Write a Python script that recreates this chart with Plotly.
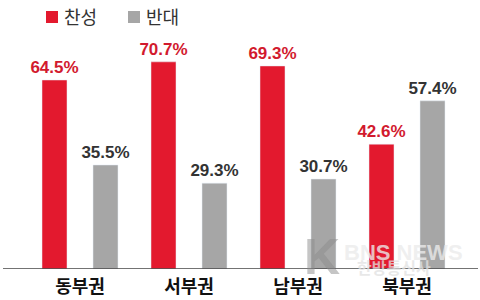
import plotly.graph_objects as go

categories = ["동부권", "서부권", "남부권", "북부권"]
favor = [64.5, 70.7, 69.3, 42.6]
oppose = [35.5, 29.3, 30.7, 57.4]
series_names = ["찬성", "반대"]

RED = "#E3192E"
RED_TXT = "#D21A2E"
GRAY = "#A6A6A6"
GRAY_TXT = "#333333"

W, H = 480, 300
L, R, T, B = 3, 2, 30, 31
pw = W - L - R
ph = H - T - B
px_per_cat = 109.0
span = pw / px_per_cat
r0 = -(80 - L) / px_per_cat
r1 = r0 + span
px_per_unit = 2.93
ymax = ph / px_per_unit

bw = 25 / px_per_cat
off = 25.5 / px_per_cat

fig = go.Figure()
fig.add_trace(go.Bar(
    x=categories, y=favor, name=series_names[0],
    marker_color=RED, width=bw, offset=-off - bw / 2,
    text=[f"{v:.1f}%" for v in favor], textposition="outside", constraintext="none",
    textfont=dict(family="Liberation Sans", size=17, color=RED_TXT, weight="bold"),
    cliponaxis=False, showlegend=False,
))
fig.add_trace(go.Bar(
    x=categories, y=oppose, name=series_names[1],
    marker_color=GRAY, width=bw, offset=off - bw / 2,
    text=[f"{v:.1f}%" for v in oppose], textposition="outside", constraintext="none",
    textfont=dict(family="Liberation Sans", size=17, color=GRAY_TXT, weight="bold"),
    cliponaxis=False, showlegend=False,
))

def px2x(p):
    return (p - L) / pw

def py2y(p):
    return (H - B - p) / ph

shapes = [
    dict(type="line", xref="paper", yref="y", x0=0, x1=1, y0=0, y1=0,
         line=dict(color="#444444", width=1.5)),
]
annotations = []
# custom legend
for sx, color, label in [(46, RED, series_names[0]), (128, GRAY, series_names[1])]:
    shapes.append(dict(type="rect", xref="paper", yref="paper",
                       x0=px2x(sx), x1=px2x(sx + 12), y0=py2y(23), y1=py2y(11),
                       fillcolor=color, line=dict(width=0)))
    annotations.append(dict(xref="paper", yref="paper", x=px2x(sx + 16), y=py2y(16),
                            xanchor="left", yanchor="middle", text=label, showarrow=False,
                            font=dict(family="Noto Sans CJK KR", size=18, color="#333333")))

# watermark
annotations.append(dict(xref="paper", yref="paper", x=px2x(322), y=py2y(257),
                        xanchor="center", yanchor="middle", text="K", showarrow=False,
                        font=dict(family="Liberation Sans", size=50, color="rgba(140,140,140,0.5)", weight="bold")))
annotations.append(dict(xref="paper", yref="paper", x=px2x(403), y=py2y(252),
                        xanchor="center", yanchor="middle", text="BNS NEWS", showarrow=False,
                        font=dict(family="Liberation Sans Narrow, Liberation Sans", size=22, color="rgba(235,235,235,0.8)", weight="bold")))
annotations.append(dict(xref="paper", yref="paper", x=px2x(394), y=py2y(267),
                        xanchor="center", yanchor="middle", text="한방통신사", showarrow=False,
                        font=dict(family="Noto Sans CJK KR", size=16, color="rgba(225,225,225,0.75)", weight="bold")))

fig.update_layout(
    width=W, height=H,
    margin=dict(l=L, r=R, t=T, b=B, pad=0),
    paper_bgcolor="white", plot_bgcolor="white",
    barmode="overlay",
    xaxis=dict(range=[r0, r1], showgrid=False, zeroline=False, showline=False,
               ticks="", ticklabelstandoff=5,
               tickfont=dict(family="Noto Sans CJK KR", size=18, color="#111111", weight="bold"),
               fixedrange=True),
    yaxis=dict(range=[0, ymax], visible=False, fixedrange=True),
    shapes=shapes,
    annotations=annotations,
    showlegend=False,
)

fig.write_html("out.html", config={"displayModeBar": False})
